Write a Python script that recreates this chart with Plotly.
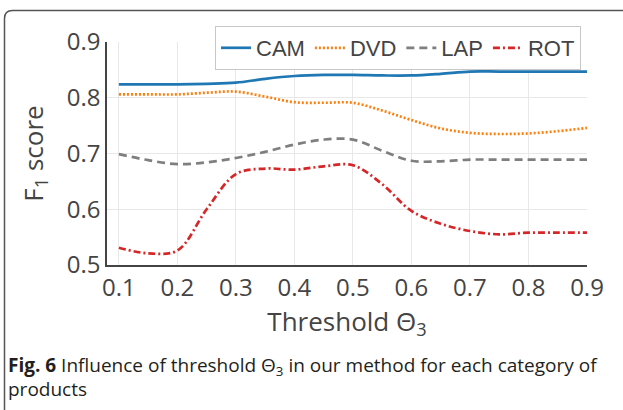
import plotly.graph_objects as go

thresholds = [0.10, 0.15, 0.20, 0.25, 0.30, 0.35, 0.40, 0.45, 0.50,
              0.55, 0.60, 0.65, 0.70, 0.75, 0.80, 0.85, 0.90]
cam = [0.824, 0.824, 0.824, 0.825, 0.827, 0.834, 0.839, 0.841, 0.841,
       0.840, 0.840, 0.843, 0.847, 0.847, 0.847, 0.847, 0.847]
dvd = [0.806, 0.806, 0.806, 0.809, 0.811, 0.802, 0.792, 0.791, 0.791,
       0.777, 0.760, 0.745, 0.737, 0.735, 0.736, 0.740, 0.746]
lap = [0.699, 0.688, 0.681, 0.684, 0.692, 0.703, 0.716, 0.725, 0.725,
       0.705, 0.687, 0.686, 0.689, 0.689, 0.689, 0.689, 0.689]
rot = [0.531, 0.521, 0.526, 0.600, 0.663, 0.673, 0.671, 0.677, 0.679,
       0.645, 0.597, 0.574, 0.561, 0.555, 0.558, 0.558, 0.558]

series_names = ["CAM", "DVD", "LAP", "ROT"]
series_values = [cam, dvd, lap, rot]
series_colors = ["#1f77b4", "#ff7f0e", "#7f7f7f", "#d62728"]
series_dashes = ["solid", "2px,2px", "8px,5px", "7px,3px,2px,3px"]

x_ticks = [0.1, 0.2, 0.3, 0.4, 0.5, 0.6, 0.7, 0.8, 0.9]
y_ticks = [0.5, 0.6, 0.7, 0.8, 0.9]

W, H = 623, 410
L, R, T, B = 107, 36, 42, 145

fig = go.Figure()
for name, vals, col, dash in zip(series_names, series_values, series_colors, series_dashes):
    fig.add_trace(go.Scatter(
        x=thresholds, y=vals, mode="lines", name=name,
        line=dict(color=col, width=2.7, dash=dash, shape="spline", smoothing=1.0),
    ))

pw = W - L - R
ph = H - T - B

def px2x(px):
    return (px - L) / pw

def py2y(py):
    return (H - B - py) / ph

# rounded figure frame (page crop border)
x0, x1 = px2x(4.5), px2x(640)
y0, y1 = py2y(430), py2y(10.5)
rx, ry = 8 / pw, 8 / ph
frame_path = (f"M {x0},{y0} L {x0},{y1 - ry} Q {x0},{y1} {x0 + rx},{y1} L {x1},{y1}")
fig.add_shape(type="path", xref="paper", yref="paper", path=frame_path,
              line=dict(color="#555555", width=1.5), layer="above")

cap_font = dict(family="Open Sans", size=19, color="#231f20")
fig.add_annotation(
    xref="paper", yref="paper", x=px2x(6), y=py2y(366), xanchor="left", yanchor="middle",
    text="<b>Fig. 6</b> Influence of threshold Θ<sub>3</sub> in our method for each category of",
    showarrow=False, font=cap_font, align="left",
)
fig.add_annotation(
    xref="paper", yref="paper", x=px2x(6), y=py2y(389), xanchor="left", yanchor="middle",
    text="products",
    showarrow=False, font=cap_font, align="left",
)

fig.update_layout(
    width=W, height=H,
    margin=dict(l=L, r=R, t=T, b=B, pad=0),
    paper_bgcolor="white", plot_bgcolor="white",
    font=dict(family="Open Sans", color="#444444"),
    showlegend=True,
    legend=dict(
        orientation="h", x=px2x(581), xanchor="right", y=py2y(26), yanchor="top",
        bgcolor="white", bordercolor="#c8c8c8", borderwidth=1,
        font=dict(family="Liberation Sans", size=22, color="#444444"),
        itemwidth=30, tracegroupgap=0,
    ),
    xaxis=dict(
        range=[0.0797, 0.9], tickvals=x_ticks, ticktext=[f"{v:.1f}" for v in x_ticks],
        showgrid=True, gridcolor="#e8e8e8", gridwidth=1,
        showline=True, linecolor="#444444", linewidth=1.5,
        ticks="", zeroline=False, tickfont=dict(size=24, color="#444444"),
        title=dict(text="Threshold Θ<sub>3</sub>", font=dict(size=26, color="#444444"), standoff=6),
    ),
    yaxis=dict(
        range=[0.5, 0.9], tickvals=y_ticks, ticktext=[f"{v:.1f}" for v in y_ticks],
        showgrid=True, gridcolor="#e8e8e8", gridwidth=1,
        showline=True, linecolor="#444444", linewidth=1.5,
        ticks="", zeroline=False, tickfont=dict(size=24, color="#444444"),
        title=dict(text="F<sub>1</sub> score", font=dict(size=26, color="#444444"), standoff=16),
    ),
)

fig.write_html("out.html", config={"displayModeBar": False},
               post_script="document.body.style.margin='0';")
